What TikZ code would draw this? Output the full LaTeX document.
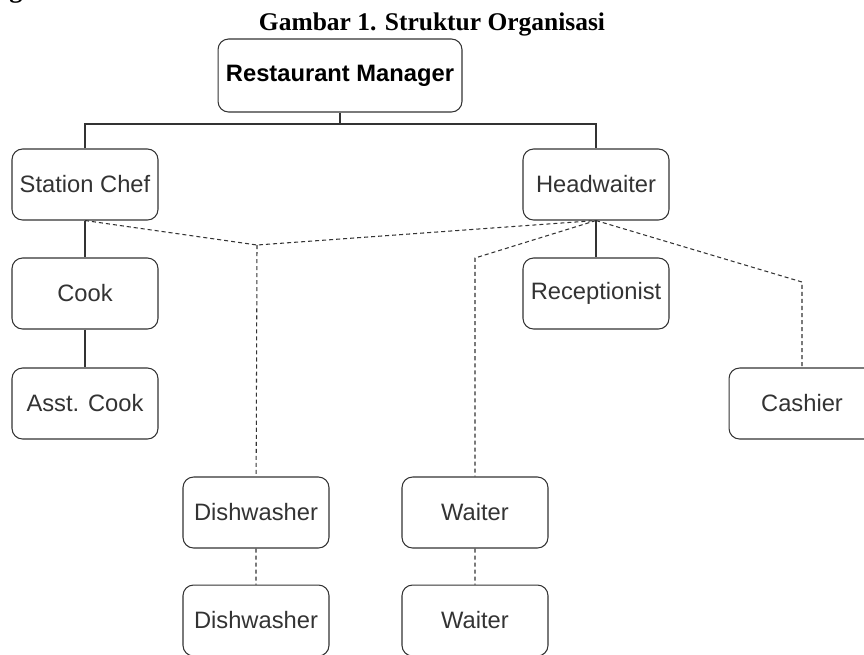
\documentclass[tikz,border=0pt]{standalone}
\usepackage{fontspec}
\setmainfont{Liberation Sans}
\newfontfamily\titlefont{Liberation Serif}
\begin{document}
\begin{tikzpicture}[x=0.02cm,y=-0.02cm,line width=0.6pt,
    box/.style={draw=black!80,rounded corners=6pt,minimum width=2.92cm,minimum height=1.42cm,
        text=black!80,font=\fontsize{13.5}{16}\selectfont},
    dashline/.style={draw=black!80,dash pattern=on 2.3pt off 1.7pt}]
    \useasboundingbox (0,0) rectangle (864,654);
    \node[font=\titlefont\bfseries\fontsize{15}{18}\selectfont] (hd) at (16,-6) {g};
    \node[font=\titlefont\bfseries\fontsize{14.5}{18}\selectfont] (title) at (432,24) {Gambar 1. Struktur Organisasi};
    \node[box,minimum width=4.88cm,minimum height=1.46cm,text=black,font=\bfseries\fontsize{13.5}{16}\selectfont] (rm) at (340,75.5) {Restaurant Manager};
    \node[box] (sc) at (85,184.5) {Station Chef};
    \node[box] (hw) at (596,184.5) {Headwaiter};
    \node[box] (cook) at (85,293.5) {Cook};
    \node[box] (rec) at (596,293.5) {Receptionist};
    \node[box] (ac) at (85,403.5) {Asst. Cook};
    \node[box] (cash) at (802,403.5) {Cashier};
    \node[box] (dw1) at (256,512.5) {Dishwasher};
    \node[box] (dw2) at (256,620.5) {Dishwasher};
    \node[box] (wt1) at (475,512.5) {Waiter};
    \node[box] (wt2) at (475,620.5) {Waiter};
    \coordinate (top) at (340,124);
    \coordinate (j1) at (257,245);
    \coordinate (j2) at (475,258);
    \coordinate (j3) at (802,282);
    % garis komando
    \draw[black!80] (rm) -- (top) (sc) |- (top) -| (hw);
    \draw[black!80] (sc) -- (cook) -- (ac) (hw) -- (rec);
    % garis koordinasi
    \draw[dashline] (sc.south) -- (j1) -- (hw.south) (j1) -- (dw1) -- (dw2);
    \draw[dashline] (hw.south) -- (j2) -- (wt1) -- (wt2);
    \draw[dashline] (hw.south) -- (j3) -- (cash);
\end{tikzpicture}
\end{document}
